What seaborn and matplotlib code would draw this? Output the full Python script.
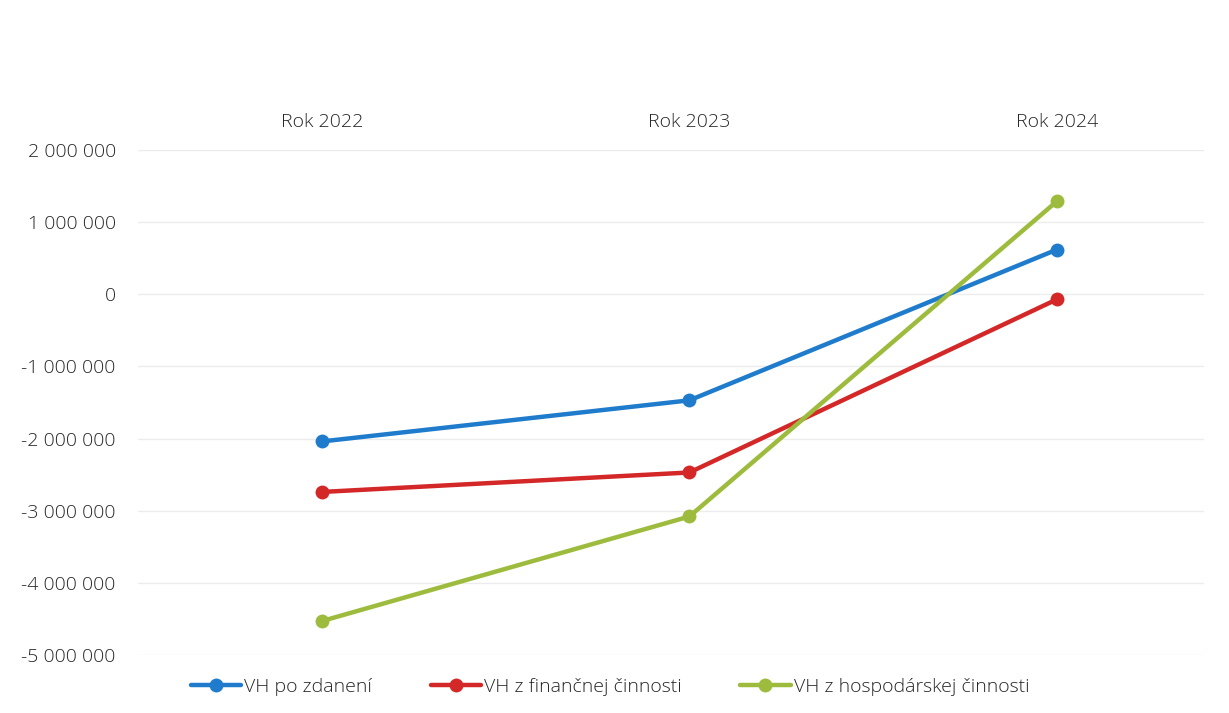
import pandas as pd
import seaborn as sns
import matplotlib.pyplot as plt
from matplotlib.ticker import FuncFormatter

years = ["Rok 2022", "Rok 2023", "Rok 2024"]
vh_po_zdaneni = [-2040000, -1470000, 620000]
vh_financna = [-2740000, -2470000, -70000]
vh_hospodarska = [-4530000, -3080000, 1290000]
series_names = ["VH po zdanení", "VH z finančnej činnosti", "VH z hospodárskej činnosti"]
colors = ["#1F7BCB", "#D42828", "#9DBB3C"]

df = pd.DataFrame({
    "Rok": years * 3,
    "Hodnota": vh_po_zdaneni + vh_financna + vh_hospodarska,
    "Séria": [s for s in series_names for _ in years],
})

sns.set_theme(style="white")
plt.rcParams["font.family"] = ["Open Sans", "DejaVu Sans"]
plt.rcParams["font.weight"] = "light"

fig = plt.figure(figsize=(12.29, 7.13), dpi=100)
ax = fig.add_axes([138 / 1229, 58 / 713, 1066 / 1229, 505 / 713])

sns.lineplot(
    data=df, x="Rok", y="Hodnota", hue="Séria", palette=colors,
    marker="o", markersize=10, linewidth=3.2, markeredgewidth=0,
    sort=False, ax=ax, legend=False,
)

ax.set_ylim(-5000000, 2000000)
ax.set_xlim(-0.5, 2.4)
ax.set_yticks(range(-5000000, 2000001, 1000000))
ax.yaxis.set_major_formatter(
    FuncFormatter(lambda v, p: f"{int(v):,}".replace(",", " "))
)
ax.xaxis.tick_top()
ax.tick_params(axis="x", length=0, labelsize=14, labelcolor="#262626", pad=14)
ax.tick_params(axis="y", length=0, labelsize=14, labelcolor="#262626", pad=16)
ax.grid(axis="y", color="#ececec", linewidth=1)
ax.set_xlabel("")
ax.set_ylabel("")
for s in ax.spines.values():
    s.set_visible(False)

handles = [
    plt.Line2D([], [], color=c, marker="o", markersize=10, linewidth=3.2, markeredgewidth=0)
    for c in colors
]
fig.legend(
    handles, series_names, loc="center", bbox_to_anchor=(610 / 1229, 26 / 713),
    ncol=3, frameon=False, fontsize=14, labelcolor="#262626",
    handlelength=2.6, handletextpad=0.15, columnspacing=3.0,
)

fig.savefig("out.png", dpi=100)
